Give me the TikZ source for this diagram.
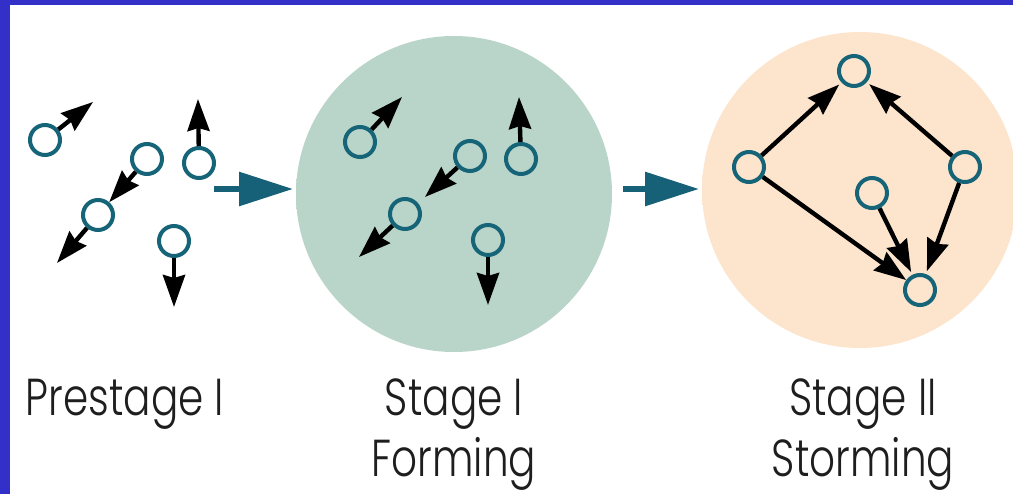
\documentclass[tikz,border=0pt]{standalone}
\usepackage{fontspec}
\setmainfont{Poppins}[UprightFont=* Light, FakeStretch=0.78]
\usetikzlibrary{arrows.meta}
\definecolor{frameblue}{RGB}{50,48,200}
\definecolor{dotteal}{RGB}{22,100,120}
\definecolor{flowteal}{RGB}{22,96,120}
\definecolor{mint}{RGB}{185,212,200}
\definecolor{mintrim}{RGB}{175,208,192}
\definecolor{peach}{RGB}{253,229,205}
\definecolor{peachrim}{RGB}{251,212,172}
\definecolor{inkgray}{RGB}{30,30,30}
\pgfdeclareradialshading{mintglow}{\pgfpoint{0bp}{0bp}}{%
  color(0bp)=(mint); color(45bp)=(mint); color(47bp)=(mintrim); color(49.5bp)=(white); color(50bp)=(white)}
\pgfdeclareradialshading{peachglow}{\pgfpoint{0bp}{0bp}}{%
  color(0bp)=(peach); color(42bp)=(peach); color(46bp)=(peachrim); color(49.5bp)=(white); color(50bp)=(white)}
\tikzset{
  member/.style={circle, draw=dotteal, line width=4pt, minimum size=30pt, inner sep=0pt},
  move/.style={draw=black, line width=4.4pt, -{Stealth[length=32pt,width=22pt,inset=3pt]}},
  link/.style={move, shorten >=3pt},
  flow/.style={draw=flowteal, line width=6pt, -{Triangle[length=54pt,width=33pt]}},
  caption/.style={anchor=base, text=inkgray, font=\fontsize{52}{60}\selectfont, inner sep=0pt}
}
\begin{document}
\begin{tikzpicture}[x=1pt, y=-1pt]
\useasboundingbox (0,0) rectangle (1013,494);
\fill[white] (0,0) rectangle (1013,494);
% frame strips
\fill[frameblue] (0,0) rectangle (10,494);
\fill[frameblue] (0,0) rectangle (1013,5);

% stage backgrounds
\shade[shading=mintglow] (454,194) circle (158);
\shade[shading=peachglow] (860,190) circle (158);

% prestage: scattered members
\node[member] (pa) at (45,140) {};
\node[member] (pb) at (147,159) {};
\node[member] (pc) at (98,215) {};
\node[member] (pd) at (199,163) {};
\node[member] (pe) at (174,241) {};
\coordinate (pat) at (93,102);
\coordinate (pct) at (57,263);
\coordinate (pdt) at (198,99);
\coordinate (pet) at (174,307);
\draw[move] (pa) -- (pat);
\draw[move] (pb) -- (pc);
\draw[move] (pc) -- (pct);
\draw[move] (pd) -- (pdt);
\draw[move] (pe) -- (pet);

% forming
\node[member] (fa) at (360,142) {};
\node[member] (fb) at (470,156) {};
\node[member] (fc) at (405,214) {};
\node[member] (fd) at (521,159) {};
\node[member] (fe) at (488,240) {};
\coordinate (fat) at (402,97);
\coordinate (fbt) at (425,197);
\coordinate (fct) at (359,257);
\coordinate (fdt) at (519,97);
\coordinate (fet) at (488,305);
\draw[move] (fa) -- (fat);
\draw[move] (fb) -- (fbt);
\draw[move] (fc) -- (fct);
\draw[move] (fd) -- (fdt);
\draw[move] (fe) -- (fet);

% storming
\node[member] (st) at (854,71) {};
\node[member] (sl) at (749,167) {};
\node[member] (sr) at (965,167) {};
\node[member] (sm) at (872,193) {};
\node[member] (sb) at (920,290) {};
\draw[link] (sl) -- (st);
\draw[link] (sr) -- (st);
\draw[move] (sl) -- (sb);
\draw[link] (sm) -- (sb);
\draw[link] (sr) -- (sb);

% transitions between stages
\coordinate (f1s) at (214,189);
\coordinate (f1e) at (293,189);
\coordinate (f2s) at (623,189);
\coordinate (f2e) at (699,189);
\draw[flow] (f1s) -- (f1e);
\draw[flow] (f2s) -- (f2e);

% captions
\node[caption] (c0) at (125,416) {Prestage I};
\node[caption] (c1a) at (454,416) {Stage I};
\node[caption] (c1b) at (454,477) {Forming};
\node[caption] (c2a) at (863,416) {Stage II};
\node[caption] (c2b) at (863,477) {Storming};
\end{tikzpicture}
\end{document}
